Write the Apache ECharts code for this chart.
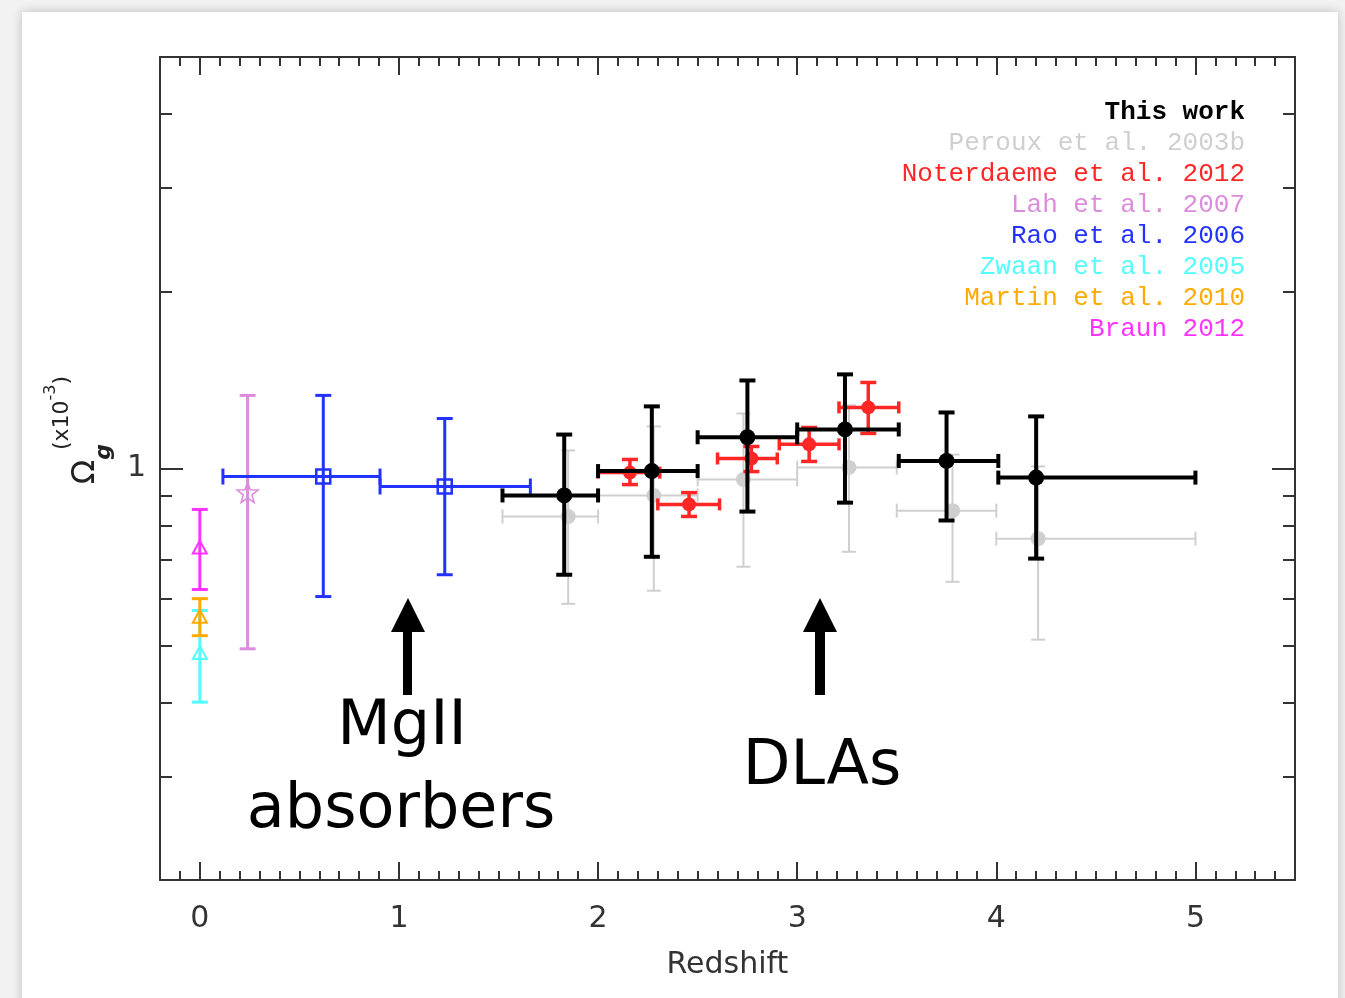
<!DOCTYPE html>
<html>
<head>
<meta charset="utf-8">
<script src="https://cdn.jsdelivr.net/npm/echarts@6/dist/echarts.min.js"></script>
<style>
  html, body { margin: 0; padding: 0; width: 1345px; height: 998px; overflow: hidden; background: #f2f2f2; }
  #card { position: absolute; left: 22px; top: 12px; width: 1316px; height: 1000px; background: #fff;
          box-shadow: 0 0 10px rgba(0,0,0,0.22); }
  #chart { position: absolute; left: 0; top: 0; width: 1345px; height: 998px; }
</style>
</head>
<body>
<div id="card"></div>
<div id="chart"></div>
<script>
// Cosmological HI mass density Omega_g (in units of 1e-3) versus redshift.
// Each point: redshift, bin edges, value, lower and upper error bound.

// This work
const thisWorkZ     = [1.83, 2.27, 2.75, 3.24, 3.75, 4.20];
const thisWorkZLo   = [1.52, 2.00, 2.50, 3.00, 3.51, 4.01];
const thisWorkZHi   = [2.00, 2.50, 3.00, 3.51, 4.01, 5.00];
const thisWorkOmega = [0.900, 0.990, 1.130, 1.165, 1.030, 0.965];
const thisWorkLo    = [0.660, 0.708, 0.845, 0.875, 0.816, 0.703];
const thisWorkHi    = [1.142, 1.275, 1.411, 1.445, 1.245, 1.226];

// Peroux et al. 2003b
const perouxZ     = [1.85, 2.28, 2.73, 3.26, 3.78, 4.21];
const perouxZLo   = [1.52, 2.00, 2.50, 3.00, 3.50, 4.00];
const perouxZHi   = [2.00, 2.50, 3.00, 3.50, 4.00, 5.00];
const perouxOmega = [0.829, 0.900, 0.958, 1.004, 0.848, 0.760];
const perouxLo    = [0.589, 0.620, 0.681, 0.722, 0.642, 0.512];
const perouxHi    = [1.073, 1.179, 1.240, 1.280, 1.056, 1.008];

// Noterdaeme et al. 2012
const noterZ     = [2.16, 2.457, 2.77, 3.06, 3.357];
const noterZLo   = [2.00, 2.30, 2.60, 2.91, 3.21];
const noterZHi   = [2.31, 2.61, 2.90, 3.21, 3.51];
const noterOmega = [0.984, 0.869, 1.040, 1.099, 1.270];
const noterLo    = [0.939, 0.829, 0.988, 1.028, 1.147];
const noterHi    = [1.036, 0.910, 1.090, 1.174, 1.400];

// Lah et al. 2007
const lahZ = [0.24];
const lahOmega = [0.907];
const lahLo = [0.494];
const lahHi = [1.331];

// Rao et al. 2006
const raoZ     = [0.62, 1.23];
const raoZLo   = [0.116, 0.905];
const raoZHi   = [0.905, 1.66];
const raoOmega = [0.969, 0.932];
const raoLo    = [0.606, 0.660];
const raoHi    = [1.331, 1.216];

// Zwaan et al. 2005
const zwaanZ = [0];
const zwaanOmega = [0.484];
const zwaanLo = [0.401];
const zwaanHi = [0.574];

// Martin et al. 2010
const martinZ = [0];
const martinOmega = [0.558];
const martinLo = [0.520];
const martinHi = [0.601];

// Braun 2012
const braunZ = [0];
const braunOmega = [0.731];
const braunLo = [0.623];
const braunHi = [0.852];

// Axis tick values
const xMajorTicks = [0, 1, 2, 3, 4, 5];
const yMajorTicks = [1];
const yMinorTicks = [0.3, 0.4, 0.5, 0.6, 0.7, 0.8, 0.9, 2, 3, 4];
const xMinorTicks = [];
for (let k = -1; k <= 54; k++) { if (k % 10 !== 0) xMinorTicks.push(k / 10); }

const X_MIN = -0.2, X_MAX = 5.5, Y_MIN = 0.2, Y_MAX = 5;
const AXIS_COLOR = '#333';
const SANS = 'DejaVu Sans';
const MONO = 'Liberation Mono';

function markerShape(kind, cx, cy, color) {
  if (kind === 'circle' || kind === 'circleS' || kind === 'circleM') {
    const r = kind === 'circle' ? 8 : (kind === 'circleS' ? 7 : 7.5);
    return { type: 'circle', shape: { cx, cy, r }, style: { fill: color } };
  }
  if (kind === 'square') {
    return { type: 'rect', shape: { x: cx - 7, y: cy - 7, width: 14, height: 14 },
             style: { fill: 'none', stroke: color, lineWidth: 2.5 } };
  }
  if (kind === 'star') {
    const pts = [];
    for (let i = 0; i < 10; i++) {
      const a = -Math.PI / 2 + i * Math.PI / 5;
      const r = i % 2 === 0 ? 11 : 4.6;
      pts.push([cx + r * Math.cos(a), cy + r * Math.sin(a)]);
    }
    return { type: 'polygon', shape: { points: pts }, style: { fill: 'none', stroke: color, lineWidth: 1.6 } };
  }
  // open triangle
  return { type: 'polygon', shape: { points: [[cx, cy - 8], [cx + 7, cy + 5], [cx - 7, cy + 5]] },
           style: { fill: 'none', stroke: color, lineWidth: 2 } };
}

function errorSeries(name, color, z, zLo, zHi, val, lo, hi, st) {
  const data = z.map((x, i) => [x, val[i], zLo ? zLo[i] : x, zHi ? zHi[i] : x, lo[i], hi[i]]);
  return {
    type: 'custom',
    name: name,
    xAxisIndex: 0,
    yAxisIndex: 0,
    z: st.z,
    itemStyle: { color: color },
    data: data,
    encode: { x: [0, 2, 3], y: [1, 4, 5] },
    renderItem: function (params, api) {
      const x = api.value(0), y = api.value(1);
      const c = api.coord([x, y]);
      const top = api.coord([x, api.value(5)]);
      const bot = api.coord([x, api.value(4)]);
      const left = api.coord([api.value(2), y]);
      const right = api.coord([api.value(3), y]);
      const lw = st.lw, capV = st.capV, capH = st.capH;
      const ls = { stroke: color, lineWidth: lw };
      const ch = [];
      ch.push({ type: 'line', shape: { x1: c[0], y1: top[1], x2: c[0], y2: bot[1] }, style: ls });
      ch.push({ type: 'line', shape: { x1: c[0] - capV, y1: top[1], x2: c[0] + capV, y2: top[1] }, style: ls });
      ch.push({ type: 'line', shape: { x1: c[0] - capV, y1: bot[1], x2: c[0] + capV, y2: bot[1] }, style: ls });
      if (right[0] - left[0] > 1) {
        ch.push({ type: 'line', shape: { x1: left[0], y1: c[1], x2: right[0], y2: c[1] }, style: ls });
        ch.push({ type: 'line', shape: { x1: left[0], y1: c[1] - capH, x2: left[0], y2: c[1] + capH }, style: ls });
        ch.push({ type: 'line', shape: { x1: right[0], y1: c[1] - capH, x2: right[0], y2: c[1] + capH }, style: ls });
      }
      ch.push(markerShape(st.marker, c[0], c[1], color));
      return { type: 'group', children: ch };
    }
  };
}

const COLORS = {
  thisWork: '#000000', peroux: '#cfcfcf', noter: '#ff2626', lah: '#dc8cdc',
  rao: '#2233ff', zwaan: '#55fcfc', martin: '#ffaa00', braun: '#ff33ff'
};

const series = [
  errorSeries('Peroux et al. 2003b', COLORS.peroux, perouxZ, perouxZLo, perouxZHi, perouxOmega, perouxLo, perouxHi,
              { lw: 2, capV: 7, capH: 7, marker: 'circleM', z: 2 }),
  errorSeries('Noterdaeme et al. 2012', COLORS.noter, noterZ, noterZLo, noterZHi, noterOmega, noterLo, noterHi,
              { lw: 3.5, capV: 8, capH: 6, marker: 'circleS', z: 3 }),
  errorSeries('This work', COLORS.thisWork, thisWorkZ, thisWorkZLo, thisWorkZHi, thisWorkOmega, thisWorkLo, thisWorkHi,
              { lw: 4, capV: 8, capH: 7, marker: 'circle', z: 4 }),
  errorSeries('Lah et al. 2007', COLORS.lah, lahZ, null, null, lahOmega, lahLo, lahHi,
              { lw: 3, capV: 8, capH: 7, marker: 'star', z: 3 }),
  errorSeries('Rao et al. 2006', COLORS.rao, raoZ, raoZLo, raoZHi, raoOmega, raoLo, raoHi,
              { lw: 3, capV: 8, capH: 8, marker: 'square', z: 3 }),
  errorSeries('Zwaan et al. 2005', COLORS.zwaan, zwaanZ, null, null, zwaanOmega, zwaanLo, zwaanHi,
              { lw: 3, capV: 8, capH: 7, marker: 'triangle', z: 3 }),
  errorSeries('Martin et al. 2010', COLORS.martin, martinZ, null, null, martinOmega, martinLo, martinHi,
              { lw: 3, capV: 8, capH: 7, marker: 'triangle', z: 3 }),
  errorSeries('Braun 2012', COLORS.braun, braunZ, null, null, braunOmega, braunLo, braunHi,
              { lw: 3, capV: 8, capH: 7, marker: 'triangle', z: 3 })
];

const legendOrder = [
  ['This work', COLORS.thisWork, 'bold'],
  ['Peroux et al. 2003b', COLORS.peroux, 'normal'],
  ['Noterdaeme et al. 2012', COLORS.noter, 'normal'],
  ['Lah et al. 2007', COLORS.lah, 'normal'],
  ['Rao et al. 2006', COLORS.rao, 'normal'],
  ['Zwaan et al. 2005', COLORS.zwaan, 'normal'],
  ['Martin et al. 2010', COLORS.martin, 'normal'],
  ['Braun 2012', COLORS.braun, 'normal']
];

function xAxisDef(position, ticks, len, showLine, showLabel) {
  return {
    type: 'value', position: position, min: X_MIN, max: X_MAX,
    splitLine: { show: false },
    axisLine: { show: showLine, onZero: false, lineStyle: { color: AXIS_COLOR, width: 2 } },
    axisTick: { show: true, inside: true, length: len, customValues: ticks,
                lineStyle: { color: AXIS_COLOR, width: 2 } },
    axisLabel: { show: showLabel, customValues: ticks, margin: 24, color: '#333',
                 fontFamily: SANS, fontSize: 30 },
    name: showLabel ? 'Redshift' : '',
    nameLocation: 'middle', nameGap: 70,
    nameTextStyle: { fontFamily: SANS, fontSize: 30, color: '#333' }
  };
}

function yAxisDef(position, ticks, len, showLine, showLabel) {
  return {
    type: 'log', logBase: 10, position: position, min: Y_MIN, max: Y_MAX,
    splitLine: { show: false },
    axisLine: { show: showLine, onZero: false, lineStyle: { color: AXIS_COLOR, width: 2 } },
    axisTick: { show: true, inside: true, length: len, customValues: ticks,
                lineStyle: { color: AXIS_COLOR, width: 2 } },
    axisLabel: { show: showLabel, customValues: ticks, margin: 14, color: '#333',
                 fontFamily: SANS, fontSize: 30 }
  };
}

const chart = echarts.init(document.getElementById('chart'), null, { renderer: 'canvas' });

chart.setOption({
  animation: false,
  backgroundColor: 'transparent',
  grid: { left: 160, right: 50, top: 57, bottom: 118, containLabel: false },
  xAxis: [
    xAxisDef('bottom', xMajorTicks, 18, true, true),
    xAxisDef('bottom', xMinorTicks, 9, false, false),
    xAxisDef('top', xMajorTicks, 18, true, false),
    xAxisDef('top', xMinorTicks, 9, false, false)
  ],
  yAxis: [
    yAxisDef('left', yMajorTicks, 23, true, true),
    yAxisDef('left', yMinorTicks, 12, false, false),
    yAxisDef('right', yMajorTicks, 23, true, false),
    yAxisDef('right', yMinorTicks, 12, false, false)
  ],
  legend: {
    orient: 'vertical', right: 90, top: 92, align: 'right',
    itemWidth: 0, itemHeight: 0, itemGap: 0, selectedMode: false,
    data: legendOrder.map(([name, color, weight]) => ({
      name: name, icon: 'rect',
      textStyle: { color: color, fontWeight: weight }
    })),
    textStyle: { fontFamily: MONO, fontSize: 26, lineHeight: 31 }
  },
  series: series,
  graphic: [
    // y-axis title: Omega_g (x10^-3), rotated
    { type: 'text', x: 86, y: 472, rotation: Math.PI / 2,
      style: { text: 'Ω', font: '32px "DejaVu Sans"', fill: '#222', align: 'center', verticalAlign: 'middle' } },
    { type: 'text', x: 104, y: 452, rotation: Math.PI / 2,
      style: { text: 'g', font: 'bold italic 22px "DejaVu Sans"', fill: '#222', align: 'center', verticalAlign: 'middle' } },
    { type: 'text', x: 58, y: 413, rotation: Math.PI / 2,
      style: {
        text: '{a|(x10}{b|-3}{a|)}', align: 'center', verticalAlign: 'middle',
        rich: {
          a: { fontFamily: SANS, fontSize: 22, fill: '#222', lineHeight: 30, verticalAlign: 'bottom' },
          b: { fontFamily: SANS, fontSize: 16, fill: '#222', lineHeight: 30, verticalAlign: 'top' }
        }
      } },
    // annotation arrows and labels
    { type: 'polygon', shape: { points: [[403, 695], [403, 632], [391, 632], [408, 598], [425, 632], [412, 632], [412, 695]] },
      style: { fill: '#000' } },
    { type: 'polygon', shape: { points: [[815, 695], [815, 632], [803, 632], [820, 598], [837, 632], [825, 632], [825, 695]] },
      style: { fill: '#000' } },
    { type: 'text', x: 402, y: 728,
      style: { text: 'MgII', font: '62px "DejaVu Sans"', fill: '#000', align: 'center', verticalAlign: 'middle' } },
    { type: 'text', x: 401, y: 811,
      style: { text: 'absorbers', font: '62px "DejaVu Sans"', fill: '#000', align: 'center', verticalAlign: 'middle' } },
    { type: 'text', x: 822, y: 768,
      style: { text: 'DLAs', font: '62px "DejaVu Sans"', fill: '#000', align: 'center', verticalAlign: 'middle' } }
  ]
});
</script>
</body>
</html>
